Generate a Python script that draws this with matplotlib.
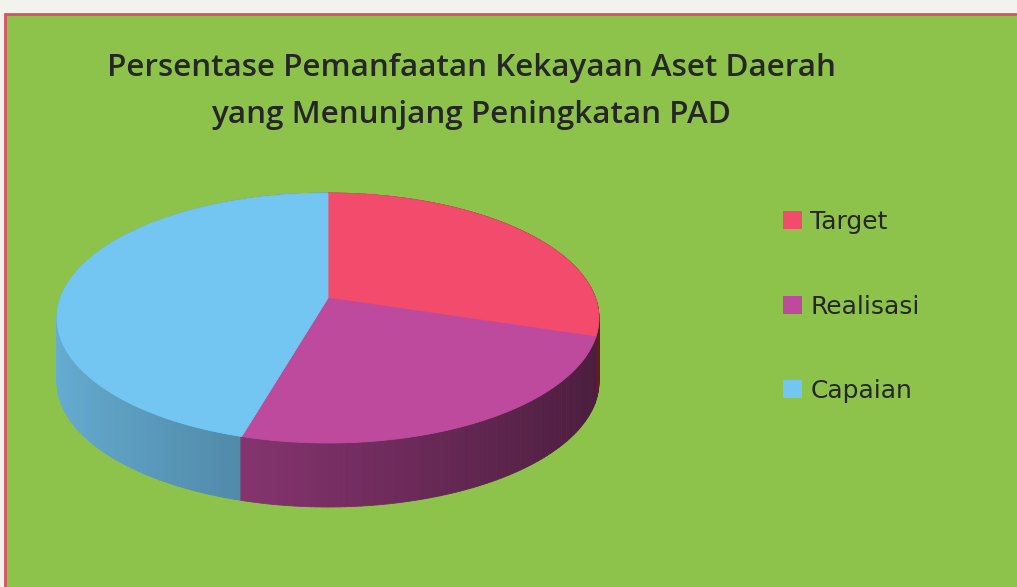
import numpy as np
import matplotlib
matplotlib.use('Agg')
import matplotlib.pyplot as plt
from matplotlib.patches import Polygon, Rectangle, Patch
from matplotlib.colors import to_rgb

# --- data ---
labels = ['Target', 'Realisasi', 'Capaian']
values = [29.9, 24.5, 45.6]
colors = ['#F24B6C', '#BE4A9E', '#74C6F2']
title_lines = ['Persentase Pemanfaatan Kekayaan Aset Daerah',
               'yang Menunjang Peningkatan PAD']

# --- layout (pixel space) ---
W, H = 1017, 587
cx, cy = 328, 298        # pie pivot
R, Ry = 267.5, 121.8     # horizontal / vertical radius
k = 0.16                 # perspective factor
depth = 64               # pie thickness
bg_green = '#8DC34B'
text_col = '#262626'


def proj(theta, r=1.0, drop=0.0):
    t = np.radians(theta)
    u, v = r * np.cos(t), r * np.sin(t)
    s = 1.0 / (1.0 + k * v)
    return cx + R * u * s, cy - Ry * v * s + drop


fig = plt.figure(figsize=(W / 100, H / 100), dpi=100, facecolor='#F3F3EE')
ax = fig.add_axes([0, 0, 1, 1])
ax.set_xlim(0, W)
ax.set_ylim(H, 0)
ax.axis('off')

# green chart area with pink border
ax.add_patch(Rectangle((5, 14), W, H, facecolor=bg_green, edgecolor='#D9506A',
                       linewidth=2.0, zorder=0))

vals = np.array(values, dtype=float)
cum = np.concatenate([[0], np.cumsum(vals) / vals.sum() * 360])
starts = 90 - cum[:-1]
ends = 90 - cum[1:]

# side wall, drawn back to front with shading
step = 1.0
thetas = np.arange(-180, 180, step)
order = np.argsort(-np.sin(np.radians(thetas + step / 2)))
for th in thetas[order]:
    mid = th + step / 2
    off = (90 - mid) % 360
    idx = min(np.searchsorted(cum, off, side='right') - 1, len(vals) - 1)
    f = 0.63 - 0.25 * np.cos(np.radians(mid))
    col = np.clip(np.array(to_rgb(colors[idx])) * f, 0, 1)
    x0, y0 = proj(th)
    x1, y1 = proj(th + step)
    poly = [(x0, y0), (x1, y1), (x1, y1 + depth), (x0, y0 + depth)]
    ax.add_patch(Polygon(poly, closed=True, facecolor=col, edgecolor=col,
                         linewidth=0.6, zorder=1))

# top faces
for s, e, c in zip(starts, ends, colors):
    arc = np.linspace(s, e, 200)
    xs, ys = proj(arc)
    pts = [(cx, cy)] + list(zip(xs, ys))
    ax.add_patch(Polygon(pts, closed=True, facecolor=c, edgecolor=c,
                         linewidth=0.6, zorder=2))

# title
for line, base in zip(title_lines, [76, 123]):
    ax.text(471, base, line, ha='center', va='baseline', fontsize=22.6,
            fontweight='semibold', color=text_col, family='Open Sans', zorder=3)

# legend
handles = [Patch(facecolor=c, edgecolor='none', label=l) for c, l in zip(colors, labels)]
leg = ax.legend(handles=handles, loc='upper left', bbox_to_anchor=(773 / W, 1 - 200 / H),
                frameon=False, fontsize=18, handlelength=0.75, handleheight=0.75,
                handletextpad=0.35, labelspacing=2.42, borderaxespad=0)
for t in leg.get_texts():
    t.set_color(text_col)

fig.savefig('out.png', dpi=100, facecolor=fig.get_facecolor())
